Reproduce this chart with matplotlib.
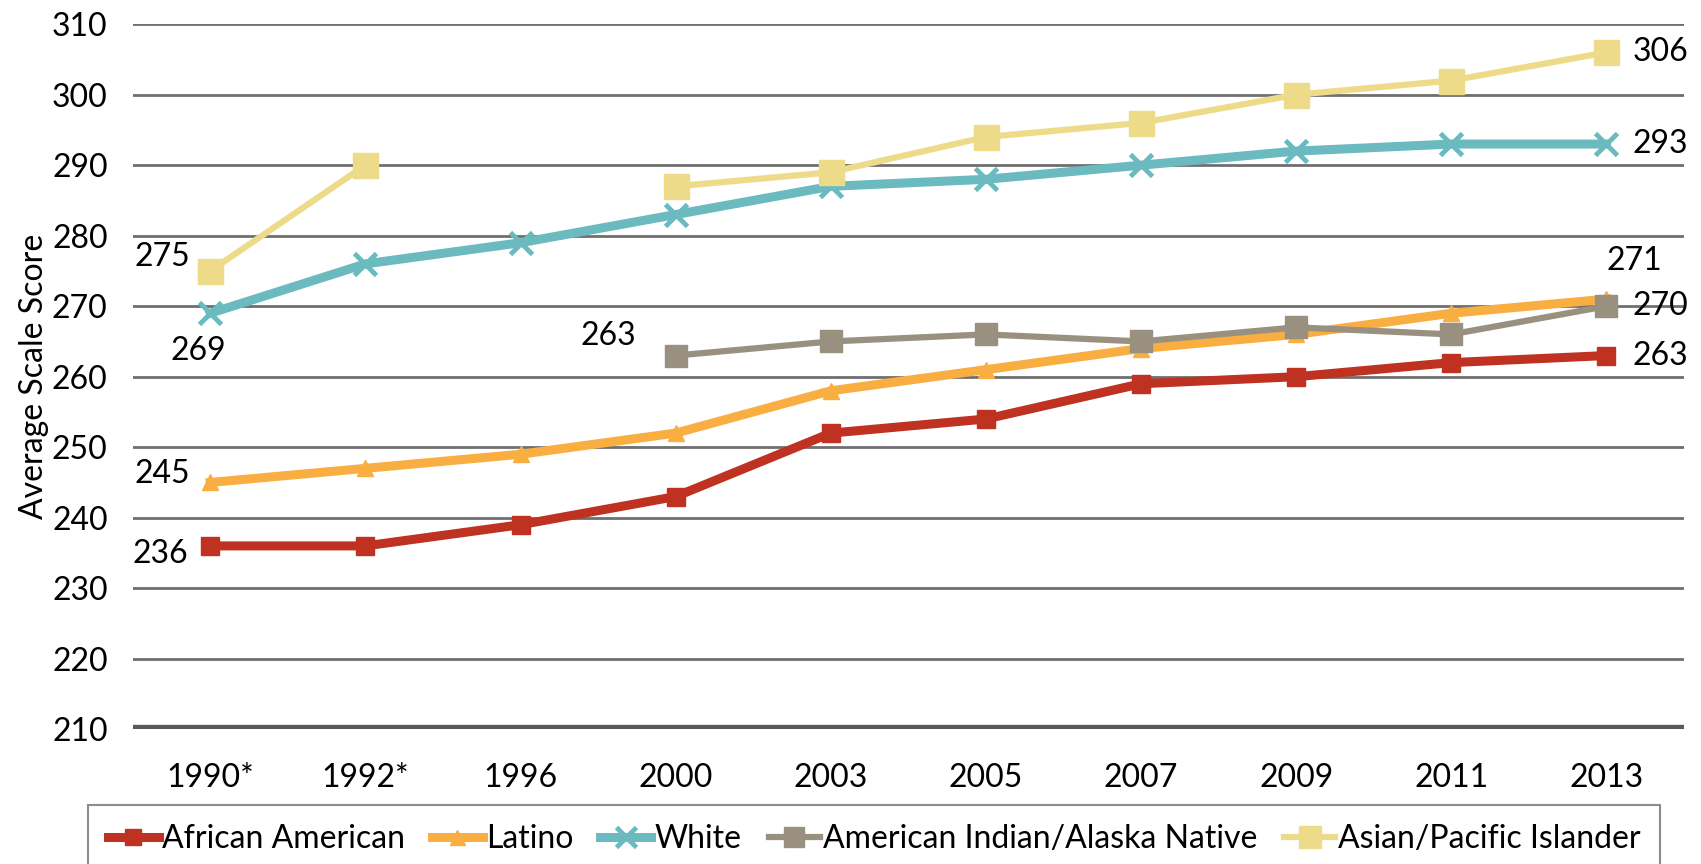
import matplotlib
matplotlib.use("Agg")
import matplotlib.pyplot as plt
import numpy as np

plt.rcParams['font.family'] = ['Lato', 'DejaVu Sans']

years = ["1990*", "1992*", "1996", "2000", "2003", "2005", "2007", "2009", "2011", "2013"]

african_american = [236, 236, 239, 243, 252, 254, 259, 260, 262, 263]
latino = [245, 247, 249, 252, 258, 261, 264, 266, 269, 271]
white = [269, 276, 279, 283, 287, 288, 290, 292, 293, 293]
american_indian = [None, None, None, 263, 265, 266, 265, 267, 266, 270]
asian_pacific = [275, 290, None, 287, 289, 294, 296, 300, 302, 306]

y_ticks = [210, 220, 230, 240, 250, 260, 270, 280, 290, 300, 310]

x = np.arange(len(years))
FS = 23


def as_array(vals):
    return np.array([np.nan if v is None else v for v in vals], dtype=float)


fig = plt.figure(figsize=(17.01, 8.64), dpi=100)
ax = fig.add_axes([0.078, 0.156, 0.912, 0.816])

# gridlines first so the series sit on top
for t in y_ticks[1:]:
    ax.axhline(t, color="#6f6f6f", lw=2.0, zorder=1)
ax.axhline(210, color="#595959", lw=6, zorder=2)

series = [
    ("African American", african_american, "#bf3120", "s", 6.5, 13, 0),
    ("Latino", latino, "#f9ae42", "^", 6.5, 12, 0),
    ("White", white, "#6bbac0", "x", 6.5, 16, 3.5),
    ("American Indian/Alaska Native", american_indian, "#9a9080", "s", 4.5, 16, 0),
    ("Asian/Pacific Islander", asian_pacific, "#eddb8a", "s", 4.5, 18, 0),
]

handles = []
for name, vals, col, mk, lw, ms, mew in series:
    h, = ax.plot(x, as_array(vals), color=col, lw=lw, marker=mk, ms=ms,
                 mec=col, mfc=col, mew=mew if mew else 1, zorder=3,
                 label=name)
    handles.append(h)

# value labels at the ends of each series
labels = [
    (african_american, 0, (-22, -8), "right"),
    (latino, 0, (-20, 8), "right"),
    (white, 0, (-12, -38), "center"),
    (asian_pacific, 0, (-20, 14), "right"),
    (american_indian, 3, (-40, 20), "right"),
    (asian_pacific, 9, (26, 0), "left"),
    (white, 9, (26, 0), "left"),
    (latino, 9, (28, 38), "center"),
    (american_indian, 9, (26, 0), "left"),
    (african_american, 9, (26, 0), "left"),
]
for vals, i, off, ha in labels:
    ax.annotate(f"{vals[i]}", (x[i], vals[i]), xytext=off,
                textcoords="offset pixels", ha=ha, va="center",
                fontsize=FS, color="black", zorder=5)

ax.set_xlim(-0.5, len(years) - 0.5)
ax.set_ylim(210, 310)
ax.set_xticks(x)
ax.set_xticklabels(years, fontsize=FS)
ax.set_yticks(y_ticks)
ax.set_yticklabels([str(t) for t in y_ticks], fontsize=FS)
ax.tick_params(axis="both", length=0)
ax.tick_params(axis="x", pad=24)
ax.tick_params(axis="y", pad=18)
for s in ax.spines.values():
    s.set_visible(False)
ax.set_ylabel("Average Scale Score", fontsize=FS, labelpad=2)

leg = fig.legend(handles=handles, loc="upper left",
                 bbox_to_anchor=(0.052, 0.068, 0.924, 0),
                 mode="expand", ncol=5, fontsize=FS, frameon=True,
                 fancybox=False, edgecolor="#6f6f6f", handlelength=1.6,
                 handletextpad=0.1, columnspacing=0.3, borderpad=0.6,
                 borderaxespad=0, markerscale=0.9)
leg.get_frame().set_linewidth(1.5)

fig.savefig("out.png", dpi=100)
